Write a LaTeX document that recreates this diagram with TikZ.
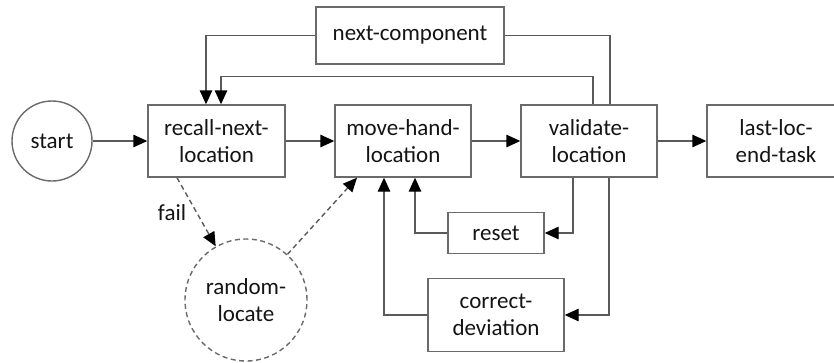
\documentclass[tikz,border=0pt]{standalone}
\usepackage{fontspec}
\setmainfont{Carlito}
\usetikzlibrary{arrows.meta,calc}
\definecolor{edgegray}{HTML}{5A5A5A}
\definecolor{boxgray}{HTML}{6A6A6A}
\definecolor{inkblack}{HTML}{141414}
\tikzset{
  stepbox/.style={draw=boxgray,line width=1.4pt,rectangle,inner sep=0pt,
    minimum width=137pt,minimum height=72pt,align=center,text=inkblack,
    font=\fontsize{23}{27}\selectfont},
  roundnode/.style={draw=boxgray,line width=1.4pt,circle,inner sep=0pt,
    align=center,text=inkblack,font=\fontsize{23}{27}\selectfont},
  arr/.style={draw=edgegray,line width=1.4pt,
    -{Triangle[length=14pt,width=12.5pt,color=black,fill=black]}},
  darr/.style={arr,dash pattern=on 5pt off 3.5pt},
}
\begin{document}
\begin{tikzpicture}[x=1pt,y=-1pt]
  \useasboundingbox (0,0) rectangle (834,362);
  \clip (0,0) rectangle (834,362);

  % main row
  \node[roundnode,minimum size=80pt] (start) at (52,141) {start};
  \node[stepbox] (recall) at (216.5,141) {recall-next-\\location};
  \node[stepbox,minimum width=136pt] (move) at (403,141) {move-hand-\\location};
  \node[stepbox,minimum width=136pt] (validate) at (589,141) {validate-\\location};
  \node[stepbox,minimum width=138pt] (last) at (776,141) {last-loc-\\end-task};

  % side steps
  \node[stepbox,minimum width=188pt,minimum height=57pt] (nextc) at (410,35.5) {next-component};
  \node[stepbox,minimum width=96pt,minimum height=41pt] (reset) at (496,233) {reset};
  \node[stepbox,minimum width=136pt,minimum height=73pt] (correct) at (496,315) {correct-\\deviation};
  \node[roundnode,dash pattern=on 5pt off 3.5pt,minimum size=122pt] (random) at (246,300) {random-\\locate};

  % forward flow
  \draw[arr] (start) -- (recall);
  \draw[arr] (recall) -- (move);
  \draw[arr] (move) -- (validate);
  \draw[arr] (validate) -- (last);

  % loops back to recall
  \draw[arr] (nextc.west) -| ([xshift=-10.5pt]recall.north);
  \draw[draw=edgegray,line width=1.4pt] (nextc.east) -| ([xshift=21pt]validate.north);
  \draw[arr] ([xshift=4pt]validate.north) -- ++(0,-28) -| ([xshift=4.5pt]recall.north);

  % corrections below
  \draw[arr] ([xshift=-16pt]validate.south) |- (reset.east);
  \draw[arr] (reset.west) -| ([xshift=12pt]move.south);
  \draw[arr] ([xshift=20pt]validate.south) |- (correct.east);
  \draw[arr] (correct.west) -| ([xshift=-19pt]move.south);

  % failure path
  \draw[darr] ([xshift=-39.5pt]recall.south) -- (random);
  \draw[darr] (random) -- ([xshift=-46pt]move.south);
  \node[text=inkblack,font=\fontsize{23}{27}\selectfont] (fail) at (172,213) {fail};
\end{tikzpicture}
\end{document}
